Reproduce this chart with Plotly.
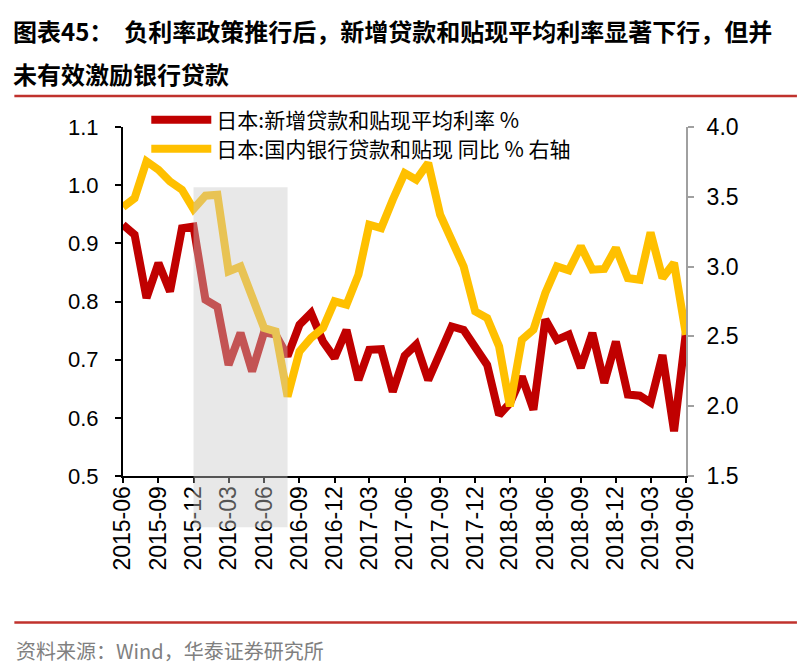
import plotly.graph_objects as go
import pandas as pd

months = pd.date_range("2015-06-01", "2019-06-01", freq="MS")

loan_rate = [0.932, 0.915, 0.806, 0.866, 0.817, 0.926, 0.929, 0.803, 0.791, 0.691, 0.746, 0.680, 0.747,
             0.743, 0.706, 0.760, 0.780, 0.731, 0.703, 0.751, 0.665, 0.717, 0.718, 0.645, 0.707,
             0.726, 0.665, 0.714, 0.757, 0.751, 0.723, 0.691, 0.605, 0.625, 0.671, 0.614, 0.769,
             0.734, 0.743, 0.686, 0.746, 0.660, 0.731, 0.640, 0.638, 0.626, 0.708, 0.577, 0.748]

loan_yoy = [3.427, 3.49, 3.754, 3.694, 3.61, 3.551, 3.413, 3.508, 3.515, 2.966, 3.001, 2.775, 2.56,
            2.536, 2.07, 2.393, 2.489, 2.56, 2.751, 2.727, 2.942, 3.30, 3.276, 3.479, 3.67,
            3.622, 3.742, 3.372, 3.205, 3.001, 2.679, 2.632, 2.428, 1.999, 2.476, 2.548, 2.811,
            3.001, 2.973, 3.145, 2.978, 2.983, 3.133, 2.918, 2.906, 3.245, 2.918, 3.026, 2.512]

name_rate = "日本:新增贷款和贴现平均利率 %"
name_yoy = "日本:国内银行贷款和贴现 同比 % 右轴"
title_1 = "图表45：  负利率政策推行后，新增贷款和贴现平均利率显著下行，但并"
title_2 = "未有效激励银行贷款"
source = "资料来源：Wind，华泰证券研究所"
shade_start, shade_end = "2015-12-01", "2016-08-01"

O = 8  # page body margin offset
W, H = 807 - O, 671 - O
L, R, T, B = 122.7 - O, 686.0 - O, 127.0 - O, 476.3 - O


def px(x):
    return (x - O - L) / (R - L)


def py(y):
    return (B - (y - O)) / (B - T)


cjk = "Noto Sans CJK SC, sans-serif"
arial = "Arial, Liberation Sans, sans-serif"

fig = go.Figure()
fig.add_trace(go.Scatter(x=months, y=loan_rate, name=name_rate, mode="lines",
                         line=dict(color="#c00000", width=8), legend="legend"))
fig.add_trace(go.Scatter(x=months, y=loan_yoy, name=name_yoy, mode="lines", yaxis="y2",
                         line=dict(color="#ffc000", width=8), legend="legend2"))

leg_common = dict(xanchor="left", yanchor="middle", bgcolor="rgba(0,0,0,0)",
                  font=dict(family=cjk, size=21, color="black"), itemwidth=60)

fig.update_layout(
    width=W, height=H,
    margin=dict(l=L, r=W - R, t=T, b=H - B, autoexpand=False),
    plot_bgcolor="white", paper_bgcolor="white",
    showlegend=True,
    legend=dict(x=px(146), y=py(120), **leg_common),
    legend2=dict(x=px(146), y=py(149), **leg_common),
    xaxis=dict(type="date", range=[months[0], months[-1]], tickmode="linear",
               tick0="2015-06-01", dtick="M3", tickformat="%Y-%m", tickangle=-90,
               showgrid=False, zeroline=False, showline=True, linecolor="black", linewidth=2,
               ticks="outside", ticklen=5, tickwidth=2, tickcolor="black",
               ticklabelstandoff=-6,
               tickfont=dict(family=arial, size=23, color="black")),
    yaxis=dict(range=[0.5, 1.1], tickmode="linear", tick0=0.5, dtick=0.1, tickformat=".1f",
               showgrid=False, zeroline=False, showline=True, linecolor="black", linewidth=2,
               ticks="outside", ticklen=6, tickwidth=2, tickcolor="black",
               ticklabelstandoff=12,
               tickfont=dict(family=arial, size=22, color="black")),
    yaxis2=dict(range=[1.5, 4.0], overlaying="y", side="right", tickmode="linear", tick0=1.5,
                dtick=0.5, tickformat=".1f", showgrid=False, zeroline=False, showline=True,
                linecolor="#a0a0a0", linewidth=2, ticks="outside", ticklen=6, tickwidth=2,
                tickcolor="#a0a0a0", ticklabelstandoff=8,
                tickfont=dict(family=arial, size=23, color="black")),
)

fig.add_shape(type="rect", xref="x", yref="paper", x0=shade_start, x1=shade_end,
              y0=py(527.7), y1=py(187.3), fillcolor="rgba(200,200,200,0.42)",
              line=dict(width=0), layer="above")

fig.add_shape(type="line", xref="paper", yref="paper", x0=px(14), x1=px(797),
              y0=py(96), y1=py(96), line=dict(color="#c0322d", width=2.5))
fig.add_shape(type="line", xref="paper", yref="paper", x0=px(14), x1=px(797),
              y0=py(623), y1=py(623), line=dict(color="#c0322d", width=2.5))

fig.add_annotation(xref="paper", yref="paper", x=px(11), y=py(30), xanchor="left",
                   yanchor="middle", showarrow=False, text="<b>" + title_1 + "</b>",
                   font=dict(family=cjk, size=24, color="black"))
fig.add_annotation(xref="paper", yref="paper", x=px(11), y=py(73), xanchor="left",
                   yanchor="middle", showarrow=False, text="<b>" + title_2 + "</b>",
                   font=dict(family=cjk, size=24, color="black"))
fig.add_annotation(xref="paper", yref="paper", x=px(14), y=py(651), xanchor="left",
                   yanchor="middle", showarrow=False, text=source,
                   font=dict(family=cjk, size=20, color="#808080"))

fig.write_html("out.html")
